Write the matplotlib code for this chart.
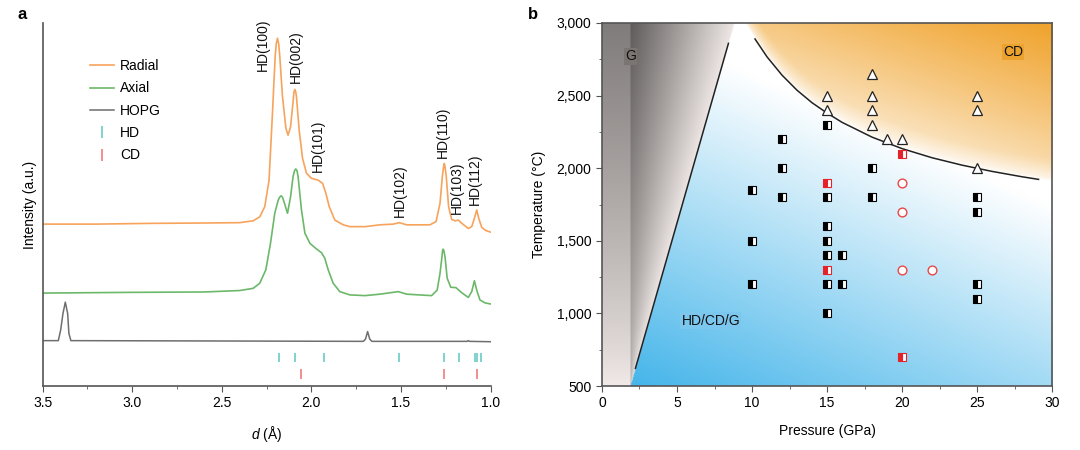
import numpy as np
import matplotlib.pyplot as plt
from matplotlib.lines import Line2D
from matplotlib.ticker import MultipleLocator, FuncFormatter

plt.rcParams['font.family'] = ['Liberation Sans', 'DejaVu Sans']
plt.rcParams['font.size'] = 10
plt.rcParams['mathtext.fontset'] = 'custom'
plt.rcParams['mathtext.it'] = 'Liberation Sans:italic'
plt.rcParams['mathtext.rm'] = 'Liberation Sans'

# ---- panel a: diffraction patterns (d in angstrom, intensity in a.u.) ----
radial_d = [3.5, 3.2, 2.9, 2.6, 2.4, 2.325, 2.288, 2.26, 2.236, 2.217, 2.202, 2.196,
            2.189, 2.182, 2.176, 2.161, 2.142, 2.13, 2.116, 2.102, 2.097, 2.092, 2.087,
            2.083, 2.068, 2.049, 2.027, 1.999, 1.962, 1.937, 1.919, 1.9, 1.869, 1.822,
            1.785, 1.7, 1.617, 1.543, 1.509, 1.468, 1.338, 1.304, 1.282, 1.269, 1.262,
            1.258, 1.254, 1.247, 1.234, 1.217, 1.198, 1.18, 1.155, 1.124, 1.105, 1.09,
            1.077, 1.066, 1.049, 1.025, 1.0]
radial_i = [44.6, 44.6, 44.8, 44.9, 45.0, 45.5, 46.6, 49.4, 56.7, 75.1, 90.7, 94.2,
            95.8, 94.2, 90.7, 79.7, 71.0, 69.1, 71.4, 78.3, 81.0, 81.7, 81.0,
            79.7, 70.5, 62.7, 58.6, 57.2, 56.7, 55.8, 53.1, 49.4, 45.7, 44.4,
            43.9, 43.9, 44.4, 44.6, 45.0, 44.4, 44.4, 45.3, 50.3, 57.7, 60.4,
            61.3, 60.4, 57.7, 49.4, 45.9, 45.5, 45.7, 44.6, 43.4, 43.9, 46.2,
            48.5, 46.2, 43.7, 42.8, 42.4]

axial_d = [3.5, 3.0, 2.6, 2.4, 2.325, 2.288, 2.254, 2.228, 2.204, 2.185, 2.177, 2.169,
           2.161, 2.153, 2.133, 2.116, 2.102, 2.094, 2.087, 2.080, 2.074, 2.055, 2.036,
           2.008, 1.975, 1.943, 1.925, 1.906, 1.878, 1.841, 1.785, 1.7, 1.617, 1.515,
           1.468, 1.329, 1.298, 1.282, 1.271, 1.268, 1.264, 1.260, 1.254, 1.242, 1.222,
           1.193, 1.161, 1.124, 1.105, 1.09, 1.077, 1.059, 1.031, 1.0]
axial_i = [25.6, 25.8, 25.9, 26.3, 26.9, 28.3, 32.0, 39.3, 47.6, 51.2, 52.0, 52.4,
           52.0, 50.8, 47.6, 52.1, 57.7, 59.3, 59.8, 59.3, 57.7, 48.5, 42.1,
           39.3, 37.9, 36.7, 35.2, 32.0, 28.3, 26.0, 25.1, 24.9, 25.3, 26.0,
           25.3, 24.9, 26.4, 31.0, 35.6, 37.2, 37.7, 37.2, 35.6, 29.7, 27.2,
           27.1, 25.7, 24.4, 26.0, 29.0, 26.4, 23.7, 22.9, 22.6]

hopg_d = [3.5, 3.412, 3.399, 3.386, 3.373, 3.36, 3.353, 3.342, 2.5, 1.71, 1.698,
          1.686, 1.674, 1.662, 1.13, 1.124, 1.118, 1.0]
hopg_i = [12.5, 12.5, 15.4, 20.0, 23.1, 20.0, 14.5, 12.5, 12.4, 12.3, 12.9,
          15.0, 12.9, 12.3, 12.3, 12.5, 12.3, 12.2]

hd_ref = [2.18, 2.09, 1.93, 1.509, 1.258, 1.174, 1.088, 1.077, 1.055]
cd_ref = [2.06, 1.26, 1.077]

peak_names = ['HD(100)', 'HD(002)', 'HD(101)', 'HD(102)', 'HD(110)', 'HD(103)', 'HD(112)']
peak_d = [2.273, 2.089, 1.961, 1.508, 1.265, 1.187, 1.087]
peak_i = [86.8, 83.5, 59.0, 46.6, 62.8, 47.4, 49.9]

# ---- panel b: P-T diagram ----
hdcd_P = [15, 12, 12, 12, 10, 10, 10, 15, 15, 15, 15, 16, 15, 16, 15,
          18, 18, 25, 25, 25, 25]
hdcd_T = [2300, 2200, 2000, 1800, 1850, 1500, 1200, 1800, 1600, 1500, 1400, 1400, 1200,
          1200, 1000, 2000, 1800, 1800, 1700, 1200, 1100]
hdcd_red_P = [15, 15, 20, 20]
hdcd_red_T = [1900, 1300, 2100, 700]
circ_P = [20, 20, 20, 22]
circ_T = [1900, 1700, 1300, 1300]
tri_P = [15, 15, 18, 18, 18, 18, 19, 20, 25, 25, 25]
tri_T = [2500, 2400, 2650, 2500, 2400, 2300, 2200, 2200, 2500, 2400, 2000]

# phase boundaries
g_line_P = [2.23, 8.43]
g_line_T = [622, 2860]
cd_line_P = [10.2, 11, 12, 13, 14, 15, 16, 18, 20, 22, 24, 26, 28, 29.1]
cd_line_T = [2890, 2767, 2641, 2537, 2451, 2380, 2316, 2214, 2135, 2072, 2021, 1978, 1941, 1923]

fig = plt.figure(figsize=(10.8, 4.5), dpi=100)
ax1 = fig.add_axes([0.0394, 0.1422, 0.4148, 0.8067])
ax2 = fig.add_axes([0.5574, 0.1422, 0.4167, 0.8067])

spine_c = '#555555'

# ---------- panel a ----------
ax1.plot(radial_d, radial_i, color='#f7a35c', lw=1.2, label='Radial')
ax1.plot(axial_d, axial_i, color='#6cb86a', lw=1.2, label='Axial')
ax1.plot(hopg_d, hopg_i, color='#6e6e6e', lw=1.1, label='HOPG')
ax1.vlines(hd_ref, 6.7, 9.2, color='#5cc9c0', lw=1.1)
ax1.vlines(cd_ref, 1.9, 4.6, color='#f07070', lw=1.1)
for name, d, y in zip(peak_names, peak_d, peak_i):
    ax1.text(d, y, name, rotation=90, ha='center', va='bottom', fontsize=10, color='#111')

ax1.set_xlim(3.5, 1.0)
ax1.set_ylim(0, 100)
ax1.xaxis.set_major_locator(MultipleLocator(0.5))
ax1.xaxis.set_minor_locator(MultipleLocator(0.25))
ax1.xaxis.set_major_formatter(FuncFormatter(lambda v, p: f'{v:.1f}'))
ax1.set_yticks([])
for s in ['top', 'right']:
    ax1.spines[s].set_visible(False)
for s in ['left', 'bottom']:
    ax1.spines[s].set_color(spine_c)
    ax1.spines[s].set_linewidth(1.2)
ax1.tick_params(axis='x', which='both', direction='out', color=spine_c, labelsize=10)
ax1.tick_params(axis='x', which='major', length=4)
ax1.tick_params(axis='x', which='minor', length=2.5)
ax1.set_xlabel(r'$d$ (Å)', labelpad=10)
ax1.set_ylabel('Intensity (a.u.)', labelpad=4)

handles = [Line2D([], [], color='#f7a35c', lw=1.2),
           Line2D([], [], color='#6cb86a', lw=1.2),
           Line2D([], [], color='#6e6e6e', lw=1.1),
           Line2D([], [], color='#5cc9c0', ls='none', marker='|', ms=9, mew=1.1),
           Line2D([], [], color='#f07070', ls='none', marker='|', ms=9, mew=1.1)]
ax1.legend(handles, ['Radial', 'Axial', 'HOPG', 'HD', 'CD'], loc='upper left',
           bbox_to_anchor=(0.078, 0.935), frameon=False, handlelength=1.7,
           handletextpad=0.45, labelspacing=0.6, fontsize=10)

# ---------- panel b background ----------
P = np.linspace(0, 30, 601)
T = np.linspace(500, 3000, 501)
PP, TT = np.meshgrid(P, T)
img = np.ones(PP.shape + (3,))

slope = (g_line_T[1] - g_line_T[0]) / (g_line_P[1] - g_line_P[0])
P_edge = g_line_P[0] + (TT - g_line_T[0]) / slope
h = (TT - 500) / 2500.0

# graphite side
band = PP < 1.9
g_band = 0.95 - 0.45 * h ** 0.8
frac = np.clip((PP - 1.9) / np.maximum(P_edge - 1.9, 1e-6), 0, 1)
g_main = 0.93 - 0.56 * (1 - frac) * (0.35 + 0.65 * h)
gray = np.where(band, g_band, g_main)
gmask = PP <= P_edge
for k, f in enumerate([1.0, 0.97, 0.96]):
    img[..., k] = np.where(gmask, gray * f, img[..., k])

# cubic diamond side
cd_edge = np.interp(PP, [9.53] + cd_line_P + [30], [3000] + cd_line_T + [1907])
cdmask = (PP >= 9.53) & (TT > cd_edge)
near = np.clip((TT - cd_edge) / 150.0, 0, 1) ** 0.5
o = np.clip(-1.85 + 0.025 * PP + 0.0007 * TT, 0, 1) ** 0.8 * near
o = np.clip(o, 0, 1)
orange = np.array([240, 162, 42]) / 255.0

# mixed-phase side
bmask = (~gmask) & (~cdmask)
t = np.clip(1.236 - 0.018 * PP - 0.0004 * TT, 0, 1)
blue = np.array([69, 181, 234]) / 255.0
for k in range(3):
    img[..., k] = np.where(cdmask, 1 - o * (1 - orange[k]), img[..., k])
    img[..., k] = np.where(bmask, 1 - t * (1 - blue[k]), img[..., k])

ax2.imshow(img, extent=[0, 30, 500, 3000], origin='lower', aspect='auto',
           interpolation='bilinear', zorder=0)
ax2.plot(g_line_P, g_line_T, color='#222', lw=1.1, zorder=2)
ax2.plot(cd_line_P, cd_line_T, color='#222', lw=1.1, zorder=2)

ax2.plot(hdcd_P, hdcd_T, ls='none', marker='s', ms=5.4, fillstyle='left',
         mfc='black', mfcalt='white', mec='black', mew=0.8, zorder=3)
ax2.plot(hdcd_red_P, hdcd_red_T, ls='none', marker='s', ms=5.4, fillstyle='left',
         mfc='#e52229', mfcalt='white', mec='#e52229', mew=0.8, zorder=3)
ax2.plot(circ_P, circ_T, ls='none', marker='o', ms=6.3, mfc='white',
         mec='#e84848', mew=1.0, zorder=3)
ax2.plot(tri_P, tri_T, ls='none', marker='^', ms=7.5, mfc='white',
         mec='#222', mew=0.9, zorder=3)

ax2.text(1.9, 2770, 'G', ha='center', va='center', fontsize=10, color='#111',
         bbox=dict(facecolor='#7a7472', edgecolor='none', pad=1.0))
ax2.text(27.4, 2800, 'CD', ha='center', va='center', fontsize=10, color='#111',
         bbox=dict(facecolor='#eca22e', edgecolor='none', pad=1.0))
ax2.text(7.25, 950, 'HD/CD/G', ha='center', va='center', fontsize=10, color='#111',
         bbox=dict(facecolor='#7cc7ee', edgecolor='none', pad=1.0))

ax2.set_xlim(0, 30)
ax2.set_ylim(500, 3000)
ax2.xaxis.set_major_locator(MultipleLocator(5))
ax2.xaxis.set_minor_locator(MultipleLocator(2.5))
ax2.yaxis.set_major_locator(MultipleLocator(500))
ax2.yaxis.set_minor_locator(MultipleLocator(250))
ax2.yaxis.set_major_formatter(FuncFormatter(lambda v, p: f'{int(v):,}'))
for s in ax2.spines.values():
    s.set_color(spine_c)
    s.set_linewidth(1.2)
ax2.tick_params(which='both', direction='out', color=spine_c, labelsize=10)
ax2.tick_params(which='major', length=4)
ax2.tick_params(which='minor', length=2.5)
ax2.set_xlabel('Pressure (GPa)', labelpad=10)
ax2.set_ylabel('Temperature (°C)', labelpad=8)

fig.text(0.0204, 0.967, 'a', weight='bold', fontsize=12, ha='center', va='center')
fig.text(0.4935, 0.967, 'b', weight='bold', fontsize=12, ha='center', va='center')

fig.savefig('out.png', dpi=100)
